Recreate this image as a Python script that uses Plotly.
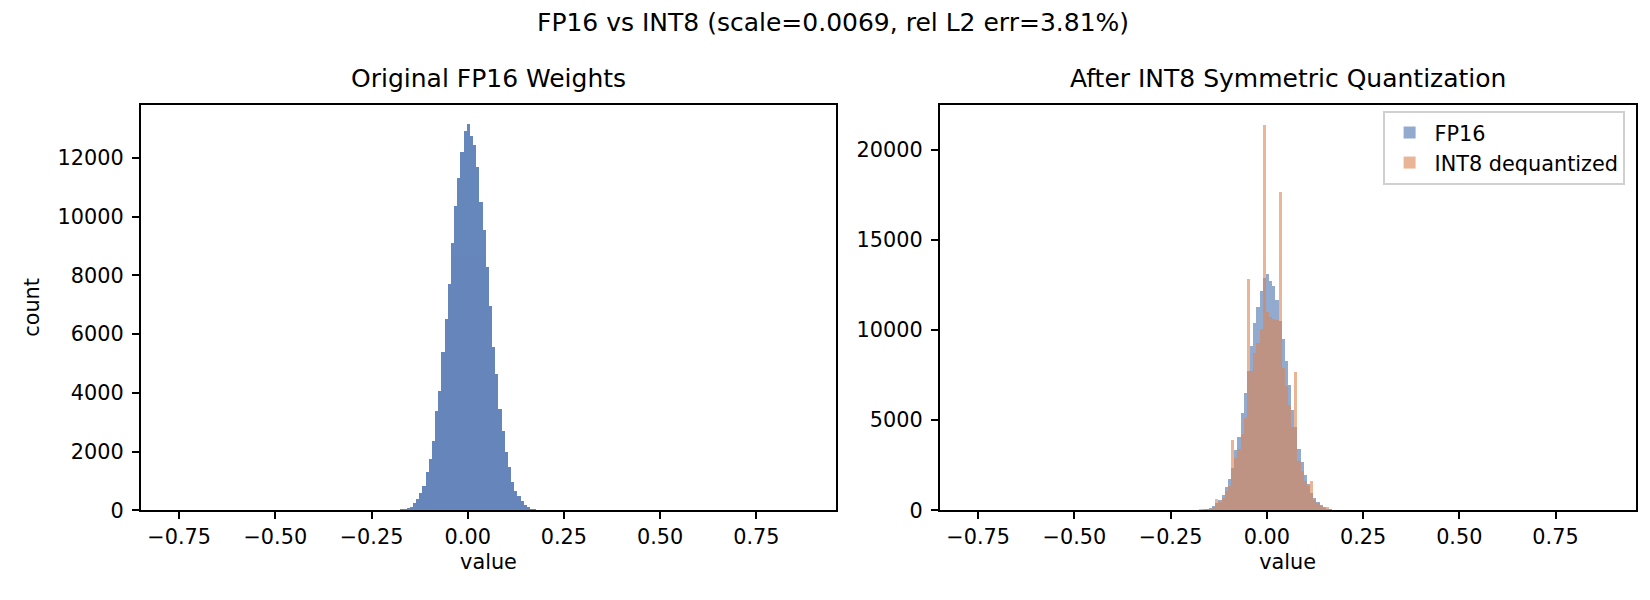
import numpy as np
import plotly.graph_objects as go
from plotly.subplots import make_subplots

# histogram setup: 200 equal bins between data min and max
BIN_LO = -0.768
BIN_HI = 0.876
N_BINS = 200
FIRST_BIN = 72  # first bin with a visible count

# FP16 weight counts, bins 72..114
fp16_counts = [30, 50, 90, 130, 255, 410, 590, 853, 1320, 1755,
               2390, 3390, 4090, 5410, 6530, 7725, 9130, 10390, 11330, 12200,
               12930, 13155, 12760, 12455, 11695, 10520, 9545, 8285, 6965, 5580,
               4650, 3450, 2730, 1985, 1490, 990, 685, 510, 320, 190,
               115, 75, 40]

# INT8 dequantized counts, same bins
int8_counts = [45, 40, 75, 110, 210, 640, 470, 700, 1100, 1350,
               3940, 2905, 3430, 4265, 5130, 12840, 7740, 8770, 9315, 10075,
               21425, 11050, 10725, 10615, 10560, 17675, 7900, 6925, 5890, 4645,
               7685, 2740, 2200, 1655, 1385, 1655, 570, 405, 270, 160,
               190, 60, 35]

x_range = [-0.850, 0.958]
x_ticks = [-0.75, -0.50, -0.25, 0.00, 0.25, 0.50, 0.75]

suptitle = "FP16 vs INT8 (scale=0.0069, rel L2 err=3.81%)"
titles = ["Original FP16 Weights", "After INT8 Symmetric Quantization"]

BLUE = "#4C72B0"
ORANGE = "#DD8452"
FONT = "DejaVu Sans"
TICK_SIZE = 20.8
TITLE_SIZE = 25

edges = np.linspace(BIN_LO, BIN_HI, N_BINS + 1)
centers = (edges[:-1] + edges[1:]) / 2
bw = edges[1] - edges[0]
xs = centers[FIRST_BIN:FIRST_BIN + len(fp16_counts)]

fig = make_subplots(rows=1, cols=2)

fig.add_trace(go.Bar(x=xs, y=fp16_counts, width=bw, marker=dict(color=BLUE, line=dict(width=0)),
                     opacity=0.85, showlegend=False), row=1, col=1)
fig.add_trace(go.Bar(x=xs, y=fp16_counts, width=bw, marker=dict(color=BLUE, line=dict(width=0)),
                     opacity=0.6, name="FP16", legendgroup="a"), row=1, col=2)
fig.add_trace(go.Bar(x=xs, y=int8_counts, width=bw, marker=dict(color=ORANGE, line=dict(width=0)),
                     opacity=0.6, name="INT8 dequantized", legendgroup="b"), row=1, col=2)

W, H = 1650, 600
ax_top, ax_bot = 98.5, 512.5
left_dom = [132.6 / W, 828.4 / W]
right_dom = [931.6 / W, 1627.6 / W]
y_dom = [(H - ax_bot) / H, (H - ax_top) / H]

axis_style = dict(showline=True, linecolor="black", linewidth=1.6, mirror=True,
                  ticks="outside", ticklen=7, tickwidth=1.6, tickcolor="black",
                  showgrid=False, zeroline=False,
                  tickfont=dict(family=FONT, size=TICK_SIZE, color="black"))

for i, dom in enumerate([left_dom, right_dom], start=1):
    fig.update_xaxes(domain=dom, range=x_range, tickvals=x_ticks, tickformat=".2f",
                     title=dict(text="value", font=dict(family=FONT, size=TICK_SIZE, color="black"), standoff=6),
                     row=1, col=i, **axis_style)

fig.update_yaxes(domain=y_dom, range=[0, 13812], dtick=2000, tickformat="d", ticklabelstandoff=4,
                 title=dict(text="count", font=dict(family=FONT, size=TICK_SIZE, color="black"), standoff=12),
                 row=1, col=1, **axis_style)
fig.update_yaxes(domain=y_dom, range=[0, 22509], dtick=5000, tickformat="d", ticklabelstandoff=4,
                 row=1, col=2, **axis_style)

fig.add_annotation(text=suptitle, x=0.5, y=(H - 15) / H, xref="paper", yref="paper",
                   showarrow=False, xanchor="center", yanchor="middle",
                   font=dict(family=FONT, size=TITLE_SIZE, color="black"))
for t, dom in zip(titles, [left_dom, right_dom]):
    fig.add_annotation(text=t, x=(dom[0] + dom[1]) / 2, y=(H - 72) / H, xref="paper", yref="paper",
                       showarrow=False, xanchor="center", yanchor="middle",
                       font=dict(family=FONT, size=TITLE_SIZE, color="black"))

fig.update_layout(
    width=W, height=H,
    margin=dict(l=0, r=0, t=0, b=0),
    barmode="overlay", bargap=0, bargroupgap=0,
    plot_bgcolor="white", paper_bgcolor="white",
    font=dict(family=FONT, size=TICK_SIZE, color="black"),
    legend=dict(x=1617 / W, y=(H - 105) / H, xanchor="right", yanchor="top",
                bgcolor="rgba(255,255,255,0.8)", bordercolor="#d0d0d0", borderwidth=1.6,
                font=dict(family=FONT, size=TICK_SIZE, color="black"), tracegroupgap=0,
                itemwidth=40),
)

fig.write_html("out.html")
